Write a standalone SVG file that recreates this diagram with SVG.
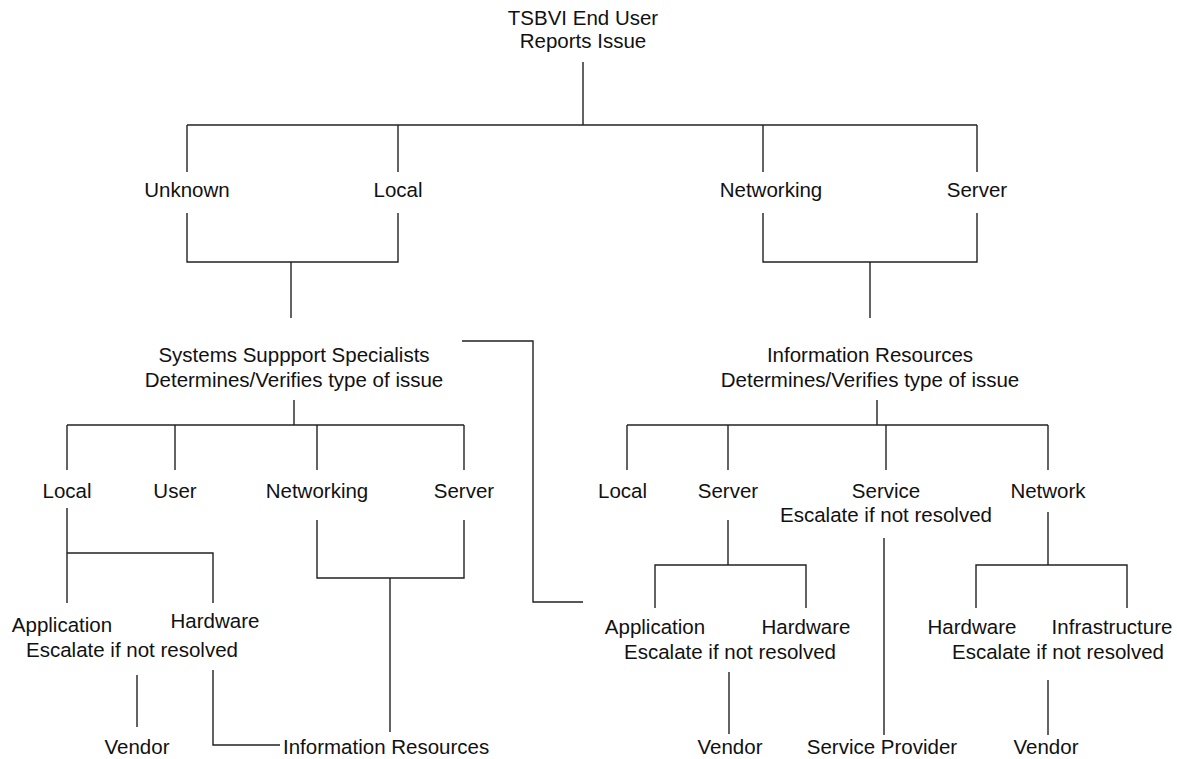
<svg xmlns="http://www.w3.org/2000/svg" width="1177" height="759" viewBox="0 0 1177 759">
<style>
text{font-family:"Liberation Sans",Arial,sans-serif;font-size:20.5px;fill:#111;text-anchor:middle}
.s{text-anchor:start}
#connectors line,#connectors polyline{stroke:#222;stroke-width:1.4;fill:none}
</style>
<rect width="1177" height="759" fill="#fff"/>
<g id="connectors">
<line x1="583" y1="62" x2="583" y2="125"/>
<line x1="187" y1="125" x2="977" y2="125"/>
<line x1="187" y1="125" x2="187" y2="172"/>
<line x1="398" y1="125" x2="398" y2="172"/>
<line x1="763" y1="125" x2="763" y2="172"/>
<line x1="977" y1="125" x2="977" y2="172"/>
<polyline points="187,213 187,262 398,262 398,213"/>
<line x1="291" y1="262" x2="291" y2="318"/>
<polyline points="763,213 763,262 977,262 977,213"/>
<line x1="870" y1="262" x2="870" y2="318"/>
<polyline points="462,341 533,341 533,602 583,602"/>
<line x1="294" y1="400" x2="294" y2="425"/>
<line x1="67" y1="425" x2="464" y2="425"/>
<line x1="67" y1="425" x2="67" y2="470"/>
<line x1="175" y1="425" x2="175" y2="470"/>
<line x1="317" y1="425" x2="317" y2="470"/>
<line x1="464" y1="425" x2="464" y2="470"/>
<line x1="877" y1="400" x2="877" y2="425"/>
<line x1="627" y1="425" x2="1048" y2="425"/>
<line x1="627" y1="425" x2="627" y2="470"/>
<line x1="728" y1="425" x2="728" y2="470"/>
<line x1="886" y1="425" x2="886" y2="470"/>
<line x1="1048" y1="425" x2="1048" y2="470"/>
<line x1="67" y1="508" x2="67" y2="603"/>
<polyline points="67,553 213,553 213,603"/>
<line x1="137" y1="675" x2="137" y2="727"/>
<polyline points="213,670 213,745 280,745"/>
<polyline points="317,520 317,578 464,578 464,520"/>
<line x1="390" y1="578" x2="390" y2="732"/>
<line x1="728" y1="520" x2="728" y2="565"/>
<polyline points="655,608 655,565 806,565 806,608"/>
<line x1="729" y1="672" x2="729" y2="734"/>
<line x1="884" y1="538" x2="884" y2="735"/>
<line x1="1048" y1="512" x2="1048" y2="565"/>
<polyline points="976,608 976,565 1127,565 1127,608"/>
<line x1="1048" y1="680" x2="1048" y2="735"/>
</g>
<g id="root"><text x="583" y="25">TSBVI End User</text><text x="583" y="48">Reports Issue</text></g>
<g id="unknown"><text x="187" y="197">Unknown</text></g>
<g id="local1"><text x="398" y="197">Local</text></g>
<g id="networking1"><text x="771" y="197">Networking</text></g>
<g id="server1"><text x="977" y="197">Server</text></g>
<g id="sss"><text x="294" y="362">Systems Suppport Specialists</text><text x="294" y="387">Determines/Verifies type of issue</text></g>
<g id="ir"><text x="870" y="362">Information Resources</text><text x="870" y="387">Determines/Verifies type of issue</text></g>
<g id="l-local"><text x="67" y="498">Local</text></g>
<g id="l-user"><text x="175" y="498">User</text></g>
<g id="l-networking"><text x="317" y="498">Networking</text></g>
<g id="l-server"><text x="464" y="498">Server</text></g>
<g id="r-local"><text class="s" x="598" y="498">Local</text></g>
<g id="r-server"><text x="728" y="498">Server</text></g>
<g id="r-service"><text x="886" y="498">Service</text><text x="886" y="522">Escalate if not resolved</text></g>
<g id="r-network"><text x="1048" y="498">Network</text></g>
<g id="l-apphw"><text x="62" y="632">Application</text><text x="215" y="628">Hardware</text><text x="132" y="657">Escalate if not resolved</text></g>
<g id="l-vendor"><text x="137" y="754">Vendor</text></g>
<g id="l-ir"><text class="s" x="283" y="754">Information Resources</text></g>
<g id="r-apphw"><text x="655" y="634">Application</text><text x="806" y="634">Hardware</text><text x="730" y="659">Escalate if not resolved</text></g>
<g id="r-vendor"><text x="730" y="754">Vendor</text></g>
<g id="r-sp"><text x="882" y="754">Service Provider</text></g>
<g id="r-hwinfra"><text x="972" y="634">Hardware</text><text x="1112" y="634">Infrastructure</text><text x="1058" y="659">Escalate if not resolved</text></g>
<g id="r-vendor2"><text x="1046" y="754">Vendor</text></g>
</svg>
